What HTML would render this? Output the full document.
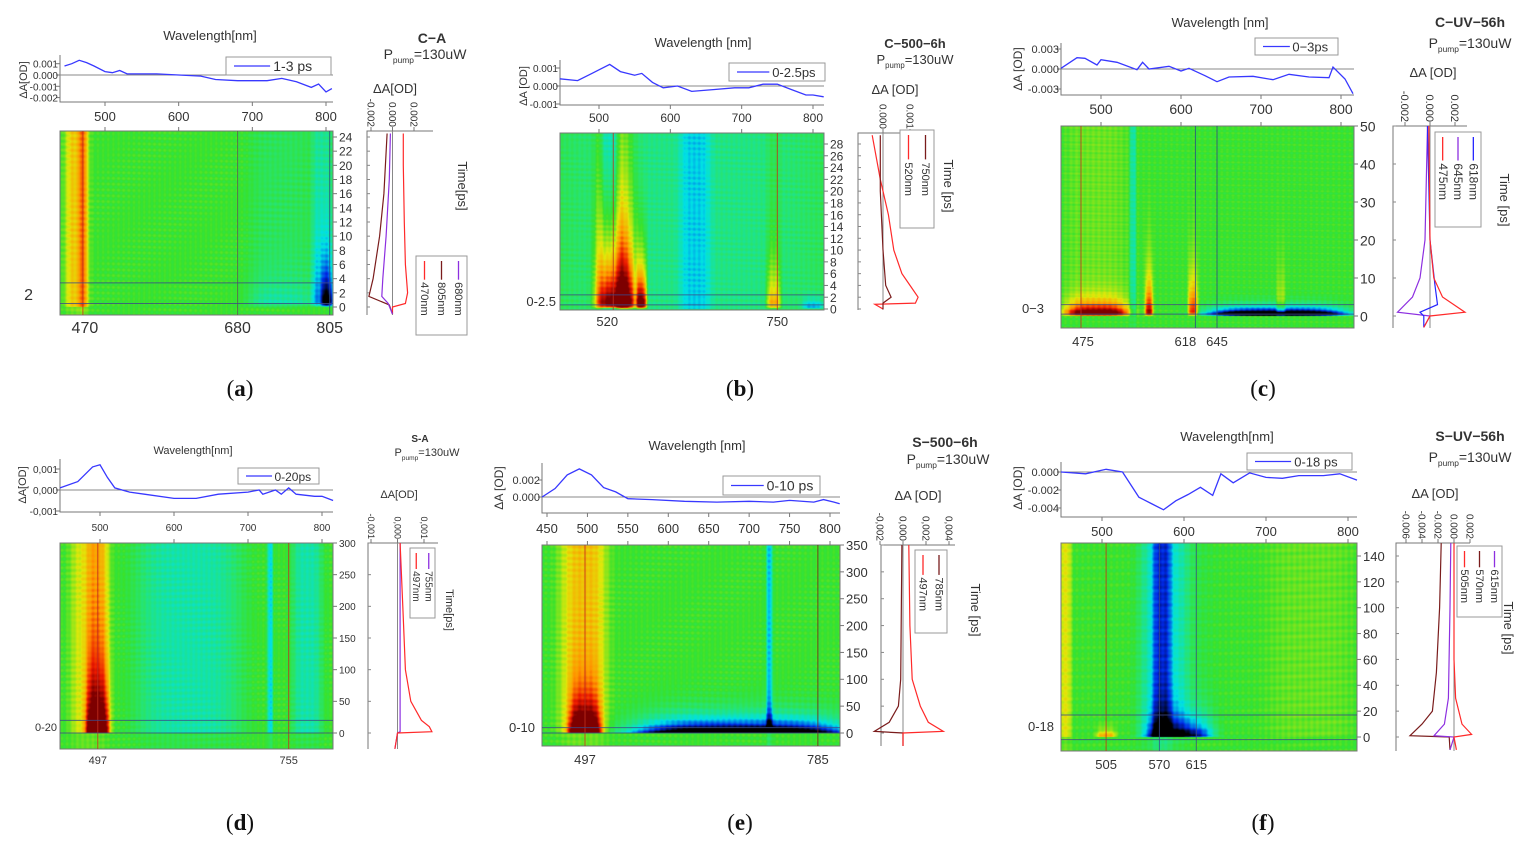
<!DOCTYPE html>
<html><head><meta charset="utf-8">
<style>
html,body{margin:0;padding:0;background:#fff;}
#wrap{position:relative;width:1536px;height:851px;overflow:hidden;background:#fff;}
canvas{position:absolute;}
svg{position:absolute;left:0;top:0;}
text{font-family:"Liberation Sans",sans-serif;fill:#333;}
</style></head>
<body>
<div id="wrap">
<canvas id="hm-a"></canvas>
<canvas id="hm-b"></canvas>
<canvas id="hm-c"></canvas>
<canvas id="hm-d"></canvas>
<canvas id="hm-e"></canvas>
<canvas id="hm-f"></canvas>
<svg id="fig" width="1536" height="851"></svg>
</div>
<script>
// ---------------- DATA ----------------
const specWlA=[445,455,465,475,485,500,510,520,530,550,570,600,630,650,680,700,720,740,760,780,790,800,808];
const specValA=[0.0008,0.001,0.0013,0.0011,0.0008,0.0003,0.0002,0.0004,0.0001,0.0001,0.0001,0.0,-0.0001,-0.0004,-0.0005,-0.0005,-0.0005,-0.0003,-0.0006,-0.0011,-0.0008,-0.0015,-0.0012];
const specWlB=[445,470,490,500,515,530,550,560,575,590,610,630,660,690,710,730,750,770,790,800,815];
const specValB=[0.0004,0.0003,0.0007,0.0009,0.0012,0.0008,0.0006,0.0007,0.0002,-0.0001,0.0,-0.0003,-0.0002,-0.0001,-0.0001,0.0001,0.0001,-0.0002,-0.0005,-0.0005,-0.0006];
const specWlC=[450,470,480,495,500,520,545,552,560,585,600,610,630,645,660,690,715,735,760,785,790,805,815];
const specValC=[0.0001,0.0017,0.0016,0.0006,0.0014,0.001,-0.0001,0.001,0.0,0.0004,-0.0003,0.0001,-0.001,-0.0019,-0.0012,-0.0011,-0.0016,-0.0008,-0.0012,-0.0013,0.0003,-0.0015,-0.0037];
const specWlD=[446,470,490,500,510,520,540,560,600,630,660,700,715,720,737,745,755,765,790,800,815];
const specValD=[0.0001,0.0004,0.0011,0.0012,0.0006,0.0001,-0.0001,-0.0002,-0.0004,-0.0004,-0.0002,-0.0001,0.0,-0.0002,0.0,-0.0002,0.0001,-0.0002,-0.0003,-0.0003,-0.0005];
const specWlE=[444,460,475,490,505,520,535,550,580,620,660,700,730,750,780,792,805,812];
const specValE=[0.0,0.001,0.0026,0.0033,0.0026,0.0011,0.0006,-0.0002,-0.0003,-0.0005,-0.0006,-0.0005,-0.0006,-0.0004,-0.0006,-0.0003,-0.0006,-0.0008];
const specWlF=[450,480,505,525,545,560,575,590,605,620,635,645,660,680,700,720,740,770,790,811];
const specValF=[0.0,-0.0002,0.0003,0.0,-0.0028,-0.0035,-0.0042,-0.0032,-0.0025,-0.0017,-0.0026,-0.0002,-0.0012,-0.0001,-0.0006,-0.0007,-0.0004,-0.0004,-0.0002,-0.0009];

const kinTA1=[-1,0,0.5,2,6,12,20,24.5];        const kinVA1=[0,0,0.0012,0.0014,0.0012,0.0011,0.001,0.001];
const kinTA2=[-1,0.3,1.5,4,10,16,24.5];        const kinVA2=[0,-0.0003,-0.0022,-0.0018,-0.0012,-0.0008,-0.0005];
const kinTA3=[-1,0.5,1.5,4,10,18,24.5];        const kinVA3=[0,-0.0004,-0.001,-0.0009,-0.0006,-0.0003,-0.0002];
const kinTB1=[0,0.8,1,2,4,6,10,16,22,29.5];    const kinVB1=[0,-0.0003,0.0012,0.0013,0.001,0.0007,0.0004,0.0002,-0.0001,-0.0004];
const kinTB2=[0,1,2,4,10,20,29.5];             const kinVB2=[0,0,0.0003,0.0001,0,-0.0001,-0.0001];
const kinTC1=[-3,0,1,5,10,20,50];              const kinVC1=[-0.0005,0,0.0028,0.001,0.0003,0,-0.0001];
const kinTC2=[-3,0,1,5,10,20,50];              const kinVC2=[-0.0005,0,-0.0026,-0.0014,-0.0008,-0.0004,-0.0002];
const kinTC3=[-3,0,1,3,8,20,50];               const kinVC3=[-0.0005,-0.0005,-0.0008,0.0006,0.0004,0,-0.0002];
const kinTD1=[-25,0,2,10,20,50,100,200,300];   const kinVD1=[-0.0001,0,0.0013,0.0012,0.0009,0.0005,0.0003,0.0002,0.0001];
const kinTD2=[-25,0,2,50,300];                 const kinVD2=[-0.0001,0,0.0001,0.0001,0.0001];
const kinTE1=[-24,0,3,20,50,100,200,350];      const kinVE1=[0,0,0.0035,0.0022,0.0015,0.0008,0.0006,0.0005];
const kinTE2=[-24,0,3,20,50,100,350];          const kinVE2=[0,0,-0.0025,-0.0012,-0.0004,-0.0002,-0.0001];
const kinTF1=[-10,0,2,10,30,60,150];           const kinVF1=[0.0003,0,0.0022,0.001,0.0002,0,0];
const kinTF2=[-10,0,1,10,20,50,100,150];       const kinVF2=[-0.0005,-0.0006,-0.0055,-0.004,-0.0027,-0.0022,-0.0018,-0.0016];
const kinTF3=[-10,0,1,10,30,100,150];          const kinVF3=[-0.0005,0,-0.0025,-0.0012,-0.0007,-0.0005,-0.0004];

// Heatmap bands: center nm, width nm, amplitude, decay tau ps, persistent fraction
const heatCA=[462,470,740,795,802];  const heatWA=[16,6,45,14,8];   const heatAA=[0.4,0.25,-0.35,-0.6,-0.8]; const heatTauA=[1e9,1e9,3,10,4]; const heatPA=[1,1,0.3,0.3,0];
const heatCB=[630,525,560,520,515,635,745,800]; const heatWB=[200,28,7,25,12,22,10,15]; const heatAB=[-0.2,1.5,1.5,0.45,-0.45,-0.25,0.8,-0.8]; const heatTauB=[1e9,10,6,30,1e9,1e9,6,1]; const heatPB=[1,0.05,0,0,1,1,0.1,0];
const heatCC=[560,495,560,615,720,540,725]; const heatWC=[150,40,5,6,85,4,6]; const heatAC=[0,1.8,1.1,1.0,-3,-0.3,0.4]; const heatTauC=[1e9,2.5,8,8,1.2,1e9,8]; const heatPC=[1,0.05,0,0,0,1,0];
const heatCD=[497,485,620,780,730]; const heatWD=[16,25,70,20,4]; const heatAD=[1.3,0.3,-0.28,-0.28,-0.4]; const heatTauD=[80,1e9,1e9,1e9,1e9]; const heatPD=[0.15,1,1,1,1];
const heatCE=[497,495,690,725]; const heatWE=[20,30,130,4]; const heatAE=[1.4,0.35,-1.6,-0.45]; const heatTauE=[50,1e9,20,1e9]; const heatPE=[0.05,1,0,1];
const heatCF=[505,595,573,575,455,755]; const heatWF=[12,40,12,30,8,55]; const heatAF=[0.7,-1.1,-0.4,-0.3,0.3,0.08]; const heatTauF=[4,12,1e9,1e9,1e9,1e9]; const heatPF=[0,0.05,1,1,1,1];

const yTickA=[0.001,0,-0.001,-0.002]; const yLabA=['0.001','0.000','-0.001','-0.002'];
const yTickB=[0.001,0,-0.001]; const yLabB=['0.001','0.000','-0.001'];
const yTickC=[0.003,0,-0.003]; const yLabC=['0.003','0.000','-0.003'];
const yTickD=[0.001,0,-0.001]; const yLabD=['0,001','0,000','-0,001'];
const yTickE=[0.002,0]; const yLabE=['0.002','0.000'];
const yTickF=[0,-0.002,-0.004]; const yLabF=['0.000','-0.002','-0.004'];
const xTick100=[500,600,700,800];
const xTickE=[450,500,550,600,650,700,750,800];
const tTickA=[0,2,4,6,8,10,12,14,16,18,20,22,24];
const tTickB=[0,2,4,6,8,10,12,14,16,18,20,22,24,26,28];
const tTickC=[0,10,20,30,40,50];
const tTickD=[0,50,100,150,200,250,300];
const tTickE=[0,50,100,150,200,250,300,350];
const tTickF=[0,20,40,60,80,100,120,140];
const kTickA=[-0.002,0,0.002]; const kLabA=['-0.002','0.000','0.002'];
const kTickB=[0,0.001]; const kLabB=['0.000','0.001'];
const kTickC=[-0.002,0,0.002]; const kLabC=['-0.002','0.000','0.002'];
const kTickD=[-0.001,0,0.001]; const kLabD=['-0,001','0,000','0,001'];
const kTickE=[-0.002,0,0.002,0.004]; const kLabE=['-0,002','0,000','0,002','0,004'];
const kTickF=[-0.006,-0.004,-0.002,0,0.002]; const kLabF=['-0.006','-0.004','-0.002','0.000','0.002'];
const markA=[470,680,805]; const markB=[520,750]; const markC=[475,618,645]; const markD=[497,755]; const markE=[497,785]; const markF=[505,570,615];
const winA=[0.5,3.4]; const winB=[0.7,2.4]; const winC=[0.5,3]; const winD=[0,20]; const winE=[0,10]; const winF=[-2,17];

// ---------------- RENDER ----------------
const NS='http://www.w3.org/2000/svg';
const svg=document.getElementById('fig');
function mk(tag,a,p){const e=document.createElementNS(NS,tag);for(const k in a)e.setAttribute(k,a[k]);(p||svg).appendChild(e);return e;}
function lin(a0,p0,a1,p1){return v=>p0+(v-a0)*(p1-p0)/(a1-a0);}
function T(s,x,y,fs,opt,p){opt=opt||{};const e=mk('text',{x:x,y:y,'font-size':fs,'text-anchor':opt.anchor||'middle'},p);
 if(opt.bold)e.setAttribute('font-weight','bold');if(opt.rot)e.setAttribute('transform','rotate('+opt.rot+' '+x+' '+y+')');
 e.textContent=s;return e;}
const stops=[[-1,[0,0,0]],[-0.72,[0,40,230]],[-0.42,[0,225,230]],[-0.15,[40,228,110]],[0,[55,226,45]],[0.3,[225,232,10]],[0.55,[255,150,0]],[0.78,[235,25,0]],[1,[125,0,0]]];
function cmap(v){v=Math.max(-1,Math.min(1,v));for(let i=1;i<stops.length;i++){if(v<=stops[i][0]){const a=stops[i-1],b=stops[i];const f=(v-a[0])/(b[0]-a[0]);return a[1].map((c,k)=>Math.round(c+(b[1][k]-c)*f));}}return stops[stops.length-1][1];}

function drawPanel(L,D){
 const g=mk('g',{});
 
 
 const tp=L.top; const sx=lin(tp.wA,tp.pA,tp.wB,tp.pB); const sy=lin(0,tp.zy,tp.vr,tp.vy);
 const ax=mk('path',{d:'M'+tp.l+' '+tp.t+' V'+tp.b+' H'+tp.r,fill:'none',stroke:'#777','stroke-width':1},g);
 
 
 const zl=mk('line',{x1:tp.l,x2:tp.r,y1:sy(0),y2:sy(0),stroke:'#888','stroke-width':1},g);
 
 
 D.yT.forEach((v,i)=>{mk('line',{x1:tp.l-4,x2:tp.l,y1:sy(v),y2:sy(v),stroke:'#777'},g);
  const t=T(D.yL[i],tp.l-2,sy(v)+4,L.fsS,{anchor:'end'},g);
  
  });
 const yt=T(L.compact?'ΔA[OD]':'ΔA [OD]',tp.yx,tp.yy,L.fsS+1,{rot:-90},g);
 
 
 D.xT.forEach(w=>{const x=sx(w);mk('line',{x1:x,x2:x,y1:tp.b,y2:tp.b+4,stroke:'#777'},g);
  const t=T(String(w),x,tp.lab,L.fsX,{},g);
  
  });
 const wt=T(L.wtitle,L.wtx,L.wty,L.fsT,{},g);
 
 
 let pts=D.sW.map((w,i)=>sx(w).toFixed(1)+','+sy(D.sV[i]).toFixed(1)).join(' ');
 const sl=mk('polyline',{points:pts,fill:'none',stroke:'#3838ff','stroke-width':1.3},g);
 
 
 const lg=L.leg;
 const lb=mk('rect',{x:lg.x,y:lg.y,width:lg.w,height:lg.h,fill:'#fff',stroke:'#999'},g);
 
 
 mk('line',{x1:lg.x+8,x2:lg.x+lg.w*0.42,y1:lg.y+lg.h/2,y2:lg.y+lg.h/2,stroke:'#3838ff','stroke-width':1.3},g);
 const lt=T(L.legText,lg.x+lg.w*0.45,lg.y+lg.h/2+5,L.fsL,{anchor:'start'},g);
 
 
 const h=L.heat; const hx=lin(tp.wA,tp.pA,tp.wB,tp.pB); const ty=lin(h.tA,h.yA,h.tB,h.yB);
 const cv=document.getElementById('hm-'+L.id); const W=h.r-h.l,H=h.b-h.t;
 cv.width=W;cv.height=H;cv.style.left=h.l+'px';cv.style.top=h.t+'px';
 const ctx=cv.getContext('2d');const img=ctx.createImageData(W,H);
 const inv=(p,a0,p0,a1,p1)=>a0+(p-p0)*(a1-a0)/(p1-p0);
 for(let yy=0;yy<H;yy++){const t=inv(h.t+yy+0.5,h.tA,h.yA,h.tB,h.yB);
  for(let xx=0;xx<W;xx++){const wl=inv(h.l+xx+0.5,tp.wA,tp.pA,tp.wB,tp.pB);let v=0;
   for(let k=0;k<D.hC.length;k++){const d=(wl-D.hC[k])/D.hW[k];const gsh=Math.exp(-d*d*d*d);
    if(gsh<1e-4)continue;let tf;
    if(D.hP[k]>=1&&D.hTau[k]>1e8){tf=t<0?0.25:1;}else{tf=t<0?0:(1-Math.exp(-t/0.3))*(D.hP[k]+(1-D.hP[k])*Math.exp(-t/D.hTau[k]));}
    v+=D.hA[k]*gsh*tf;}
   v+=0.03*Math.sin(wl*0.9)+0.025*Math.sin(yy*1.1)+0.02*Math.sin(t*7.3+wl*0.05);
   const c=cmap(v);const o=(yy*W+xx)*4;img.data[o]=c[0];img.data[o+1]=c[1];img.data[o+2]=c[2];img.data[o+3]=255;}}
 ctx.putImageData(img,0,0);
 const hb=mk('rect',{x:h.l,y:h.t,width:W,height:H,fill:'none',stroke:'#777'},g);
 
 
 D.xT.forEach(w=>{const x=hx(w);mk('line',{x1:x,x2:x,y1:h.t-4,y2:h.t,stroke:'#777'},g);});
 mk('line',{x1:h.r,x2:h.r,y1:h.t,y2:h.b,stroke:'#777'},g);
 D.tT.forEach(tv=>{const y=ty(tv);mk('line',{x1:h.r,x2:h.r+4,y1:y,y2:y,stroke:'#777'},g);
  const t=T(String(tv),h.r+6,y+L.fsR*0.38,L.fsR,{anchor:'start'},g);
  
  });
 D.mk.forEach((w,i)=>{const x=hx(w);
  const ml=mk('line',{x1:x,x2:x,y1:h.t,y2:h.b,stroke:L.markCol[i],'stroke-width':1,opacity:0.8},g);
  
  
  const t=T(String(w),x+(L.markDx?L.markDx[i]:0),h.lab,L.fsM,{},g);
  
  });
 D.win.forEach(tv=>{const y=ty(tv);
  const wl=mk('line',{x1:h.l,x2:h.r,y1:y,y2:y,stroke:'#3b4a8a','stroke-width':1,opacity:0.8},g);
  
  });
 const wlab=T(L.winLab,L.winX,L.winY,L.fsM,{anchor:'end'},g);
 
 
 const k=L.kin; const kx=lin(k.vA,k.xA,k.vB,k.xB);
 const ka=mk('path',{d:'M'+k.r+' '+k.t+' H'+k.l+' V'+k.b,fill:'none',stroke:'#777'},g);
 
 
 const kz=mk('line',{x1:kx(0),x2:kx(0),y1:k.t,y2:k.b,stroke:'#888'},g);
 
 
 D.tT.forEach(tv=>{const y=ty(tv);mk('line',{x1:k.l,x2:k.l+3,y1:y,y2:y,stroke:'#888'},g);});
 D.kT.forEach((v,i)=>{const x=kx(v);mk('line',{x1:x,x2:x,y1:k.t-4,y2:k.t,stroke:'#777'},g);
  const t=T(D.kL[i],x-L.fsK*0.35,k.t-4,L.fsK,{anchor:'end',rot:90},g);
  
  });
 const kt=T(L.compact?'ΔA[OD]':'ΔA [OD]',k.tx,k.ty,L.fsT,{},g);
 
 
 D.traces.forEach((tr,i)=>{const p=tr.t.map((tv,j)=>kx(tr.v[j]).toFixed(1)+','+ty(tv).toFixed(1)).join(' ');
  const pl=mk('polyline',{points:p,fill:'none',stroke:tr.c,'stroke-width':1.2},g);
  
  });
 const kg=L.kleg;
 const kb=mk('rect',{x:kg.x,y:kg.y,width:kg.w,height:kg.h,fill:'#fff',stroke:'#999'},g);
 
 
 const n=D.traces.length; const cw=kg.w/n;
 D.legOrder.forEach((ti,j)=>{const tr=D.traces[ti];const cx=kg.x+cw*(n-1-j)+cw/2;
  mk('line',{x1:cx,x2:cx,y1:kg.y+5,y2:kg.y+kg.h*0.3,stroke:tr.c,'stroke-width':1.3},g);
  const t=T(tr.n,cx-L.fsK*0.35,kg.y+kg.h*0.33,L.fsK+1,{anchor:'start',rot:90},g);
  
  });
 const tt=T(L.compact?'Time[ps]':'Time [ps]',L.ttx,L.tty,L.fsT,{rot:90},g);
 
 
 const st=T(L.sample,L.sx,L.sy,L.fsTitle,{bold:true},g);
 
 
 const pp=mk('text',{x:L.px,y:L.py,'font-size':L.fsP,'text-anchor':'middle'},g);
 
 
 pp.innerHTML='P<tspan font-size="'+(L.fsP*0.6)+'" dy="4">pump</tspan><tspan dy="-4">=130uW</tspan>';
 const pl=mk('text',{x:L.lx,y:L.ly,'font-size':23,'text-anchor':'middle',style:'font-family:"Liberation Serif",serif;fill:#111'},g);
 
 
 pl.innerHTML='(<tspan font-weight="bold">'+L.id+'</tspan>)';
}

const RED='#ff2a2a',BROWN='#7a1c1c',PURP='#8d2fe0',BLUE='#2424ff';
drawPanel({id:'a',wtitle:'Wavelength[nm]',wtx:210,wty:40,fsT:13,fsS:10,fsX:13,fsL:14,fsR:12,fsM:16,fsK:10,fsTitle:14,fsP:14,compact:true,
 top:{l:60,r:333,t:55,b:102,wA:500,pA:105,wB:800,pB:326,zy:75,vr:0.001,vy:63.7,yx:27,yy:80,lab:121},
 leg:{x:226,y:57,w:105,h:18},legText:'1-3 ps',
 heat:{l:60,r:333,t:131,b:315,tA:0,yA:307,tB:24,yB:137,lab:333},markCol:['#c03020','#5a5a5a','#2a4a8a'],markDx:[2,0,0],
 winLab:'2',winX:33,winY:300,
 kin:{l:367,r:433,t:131,b:315,vA:-0.002,xA:371,vB:0.002,xB:414,tx:395,ty:93},
 kleg:{x:416,y:256,w:51,h:79},ttx:458,tty:186,sample:'C−A',sx:432,sy:43,px:425,py:59,lx:240,ly:396},
 {sW:specWlA,sV:specValA,yT:yTickA,yL:yLabA,xT:xTick100,tT:tTickA,kT:kTickA,kL:kLabA,mk:markA,win:winA,
  hC:heatCA,hW:heatWA,hA:heatAA,hTau:heatTauA,hP:heatPA,
  traces:[{t:kinTA1,v:kinVA1,c:RED,n:'470nm'},{t:kinTA2,v:kinVA2,c:BROWN,n:'805nm'},{t:kinTA3,v:kinVA3,c:PURP,n:'680nm'}],legOrder:[2,1,0]});
drawPanel({id:'b',wtitle:'Wavelength [nm]',wtx:703,wty:47,fsT:13,fsS:10,fsX:12,fsL:13,fsR:12,fsM:13,fsK:10,fsTitle:13,fsP:13,
 top:{l:560,r:824,t:60,b:105,wA:500,pA:599,wB:800,pB:813,zy:86,vr:0.001,vy:68,yx:527,yy:86,lab:122},
 leg:{x:729,y:63,w:96,h:18},legText:'0-2.5ps',
 heat:{l:560,r:824,t:133,b:310,tA:0,yA:309,tB:28,yB:144,lab:326},markCol:['#c03020','#c03020'],markDx:[-6,0],
 winLab:'0-2.5',winX:556,winY:306,
 kin:{l:858,r:925,t:133,b:310,vA:0,xA:883,vB:0.001,xB:910,tx:895,ty:94},
 kleg:{x:900,y:130,w:34,h:98},ttx:944,tty:186,sample:'C−500−6h',sx:915,sy:48,px:915,py:64,lx:740,ly:396},
 {sW:specWlB,sV:specValB,yT:yTickB,yL:yLabB,xT:xTick100,tT:tTickB,kT:kTickB,kL:kLabB,mk:markB,win:winB,
  hC:heatCB,hW:heatWB,hA:heatAB,hTau:heatTauB,hP:heatPB,
  traces:[{t:kinTB1,v:kinVB1,c:RED,n:'520nm'},{t:kinTB2,v:kinVB2,c:BROWN,n:'750nm'}],legOrder:[1,0]});
drawPanel({id:'c',wtitle:'Wavelength [nm]',wtx:1220,wty:27,fsT:13,fsS:11,fsX:14,fsL:13,fsR:14,fsM:13,fsK:11,fsTitle:14,fsP:14,
 top:{l:1061,r:1354,t:43,b:95,wA:500,pA:1101,wB:800,pB:1341,zy:69,vr:0.003,vy:49,yx:1022,yy:69,lab:114},
 leg:{x:1255,y:38,w:83,h:17},legText:'0−3ps',
 heat:{l:1061,r:1354,t:126,b:328,tA:0,yA:316,tB:50,yB:126,lab:346},markCol:['#c03020','#2a4a8a','#2a4a8a'],markDx:[2,-10,0],
 winLab:'0−3',winX:1044,winY:313,
 kin:{l:1393,r:1467,t:126,b:328,vA:-0.002,xA:1405,vB:0.002,xB:1455,tx:1433,ty:77},
 kleg:{x:1435,y:132,w:46,h:95},ttx:1500,tty:200,sample:'C−UV−56h',sx:1470,sy:27,px:1470,py:48,lx:1263,ly:396},
 {sW:specWlC,sV:specValC,yT:yTickC,yL:yLabC,xT:xTick100,tT:tTickC,kT:kTickC,kL:kLabC,mk:markC,win:winC,
  hC:heatCC,hW:heatWC,hA:heatAC,hTau:heatTauC,hP:heatPC,
  traces:[{t:kinTC2,v:kinVC2,c:PURP,n:'645nm'},{t:kinTC3,v:kinVC3,c:BLUE,n:'618nm'},{t:kinTC1,v:kinVC1,c:RED,n:'475nm'}],legOrder:[1,0,2]});
drawPanel({id:'d',wtitle:'Wavelength[nm]',wtx:193,wty:454,fsT:11,fsS:10,fsX:10,fsL:12,fsR:10,fsM:11,fsK:9,fsTitle:10,fsP:11,compact:true,
 top:{l:60,r:333,t:459,b:512,wA:500,pA:100,wB:800,pB:322,zy:490,vr:0.001,vy:469,yx:26,yy:485,lab:531},
 leg:{x:238,y:468,w:81,h:16},legText:'0-20ps',
 heat:{l:60,r:333,t:543,b:749,tA:0,yA:733,tB:300,yB:543,lab:764},markCol:['#c03020','#c03020'],
 winLab:'0-20',winX:57,winY:731,
 kin:{l:368,r:438,t:543,b:749,vA:-0.001,xA:371,vB:0.001,xB:424,tx:399,ty:498},
 kleg:{x:410,y:548,w:25,h:70},ttx:446,tty:610,sample:'S-A',sx:420,sy:442,px:427,py:456,lx:240,ly:830},
 {sW:specWlD,sV:specValD,yT:yTickD,yL:yLabD,xT:xTick100,tT:tTickD,kT:kTickD,kL:kLabD,mk:markD,win:winD,
  hC:heatCD,hW:heatWD,hA:heatAD,hTau:heatTauD,hP:heatPD,
  traces:[{t:kinTD2,v:kinVD2,c:PURP,n:'755nm'},{t:kinTD1,v:kinVD1,c:RED,n:'497nm'}],legOrder:[0,1]});
drawPanel({id:'e',wtitle:'Wavelength [nm]',wtx:697,wty:450,fsT:13,fsS:11,fsX:13,fsL:14,fsR:13,fsM:13,fsK:10,fsTitle:14,fsP:14,
 top:{l:542,r:840,t:463,b:513,wA:450,pA:547,wB:800,pB:830,zy:497,vr:0.002,vy:480,yx:503,yy:488,lab:533},
 leg:{x:723,y:476,w:97,h:19},legText:'0-10 ps',
 heat:{l:542,r:840,t:545,b:746,tA:0,yA:733,tB:350,yB:545,lab:764},markCol:['#c03020','#7a1c1c'],
 winLab:'0-10',winX:535,winY:732,
 kin:{l:881,r:955,t:545,b:746,vA:0,xA:903,vB:0.002,xB:926,tx:918,ty:500},
 kleg:{x:915,y:550,w:32,h:83},ttx:971,tty:610,sample:'S−500−6h',sx:945,sy:447,px:948,py:464,lx:740,ly:830},
 {sW:specWlE,sV:specValE,yT:yTickE,yL:yLabE,xT:xTickE,tT:tTickE,kT:kTickE,kL:kLabE,mk:markE,win:winE,
  hC:heatCE,hW:heatWE,hA:heatAE,hTau:heatTauE,hP:heatPE,
  traces:[{t:kinTE2,v:kinVE2,c:BROWN,n:'785nm'},{t:kinTE1,v:kinVE1,c:RED,n:'497nm'}],legOrder:[0,1]});
drawPanel({id:'f',wtitle:'Wavelength[nm]',wtx:1227,wty:441,fsT:13,fsS:11,fsX:13,fsL:13,fsR:13,fsM:13,fsK:10,fsTitle:14,fsP:14,
 top:{l:1061,r:1357,t:462,b:517,wA:500,pA:1102,wB:800,pB:1348,zy:472,vr:-0.002,vy:490,yx:1022,yy:488,lab:536},
 leg:{x:1247,y:453,w:105,h:17},legText:'0-18 ps',
 heat:{l:1061,r:1357,t:543,b:751,tA:0,yA:737,tB:140,yB:556,lab:769},markCol:['#c03020','#3b4a8a','#3b4a8a'],
 winLab:'0-18',winX:1054,winY:731,
 kin:{l:1396,r:1470,t:543,b:751,vA:0,xA:1454,vB:0.002,xB:1470,tx:1435,ty:498},
 kleg:{x:1457,y:546,w:45,h:71},ttx:1504,tty:628,sample:'S−UV−56h',sx:1470,sy:441,px:1470,py:462,lx:1263,ly:830},
 {sW:specWlF,sV:specValF,yT:yTickF,yL:yLabF,xT:xTick100,tT:tTickF,kT:kTickF,kL:kLabF,mk:markF,win:winF,
  hC:heatCF,hW:heatWF,hA:heatAF,hTau:heatTauF,hP:heatPF,
  traces:[{t:kinTF2,v:kinVF2,c:BROWN,n:'570nm'},{t:kinTF3,v:kinVF3,c:PURP,n:'615nm'},{t:kinTF1,v:kinVF1,c:RED,n:'505nm'}],legOrder:[1,0,2]});
</script>
</body></html>
